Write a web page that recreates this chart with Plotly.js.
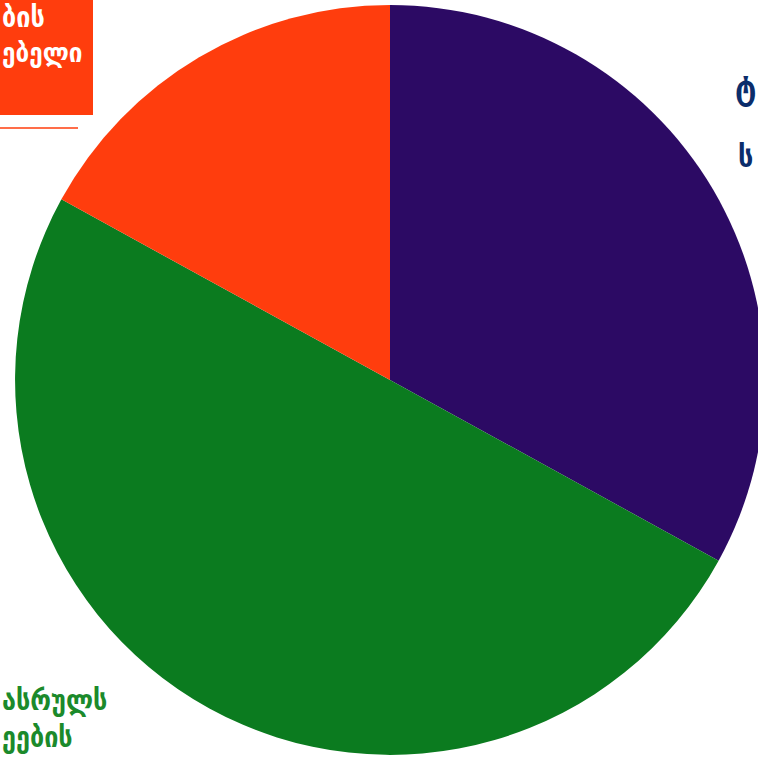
<!DOCTYPE html>
<html>
<head>
<meta charset="utf-8">
<script src="https://cdn.plot.ly/plotly-3.0.1.min.js"></script>
<style>
html,body{margin:0;padding:0;overflow:hidden;background:#fff;width:758px;height:759px;}
#chart{width:800px;height:759px;}
</style>
</head>
<body>
<div id="chart"></div>
<script>
// Slice categories (partially visible labels in the reference) and shares in percent
const categories = ["ტ ს", "ასრულს ეების", "ბის ებელი"];
const values = [33, 50, 17];
const colors = ["#2c0a64", "#0b7b1f", "#ff3d0d"];

// Visible label fragments
const orangeLines = ["ბის", "ებელი"];
const greenLines = ["ასრულს", "ეების"];
const navyLines = ["ტ", "ს"];

const W = 800, H = 759;
const px = x => x / W;
const py = y => 1 - y / H;

const data = [{
  type: "pie",
  labels: categories,
  values: values,
  sort: false,
  direction: "clockwise",
  rotation: 0,
  textinfo: "none",
  hoverinfo: "label+percent",
  marker: {colors: colors, line: {width: 0}},
  domain: {x: [px(15), px(765)], y: [4 / H, 754 / H]},
  showlegend: false
}];

const font = "DejaVu Sans Condensed, DejaVu Sans, sans-serif";
const mk = (text, x, y, anchor, color, size) => ({
  text: "<b>" + text + "</b>", x: px(x), y: py(y), xanchor: anchor, yanchor: "middle",
  borderpad: 0,
  font: {family: font, size: size || 28, color: color}
});
const annotations = [
  mk(orangeLines[0], 1, 17, "left", "#ffffff", 28),
  mk(orangeLines[1], 1, 53, "left", "#ffffff", 27),
  mk(greenLines[0], 1, 700, "left", "#1b8a2b", 28),
  mk(greenLines[1], 1, 737, "left", "#1b8a2b", 28),
  mk(navyLines[0], 734, 87, "left", "#0b2d6b", 34),
  mk(navyLines[1], 737, 156, "left", "#0b2d6b", 30)
].map(a => Object.assign({xref: "paper", yref: "paper", showarrow: false}, a));

const shapes = [
  {type: "rect", xref: "paper", yref: "paper", x0: -0.05, x1: px(93), y0: py(115), y1: 1.05, fillcolor: "#ff3d0d", line: {width: 0}, layer: "below"},
  {type: "line", xref: "paper", yref: "paper", x0: -0.05, x1: px(78), y0: py(128), y1: py(128), line: {color: "#ff3d0d", width: 1.5}}
];

const layout = {
  width: W, height: H,
  margin: {l: 0, r: 0, t: 0, b: 0, pad: 0},
  paper_bgcolor: "#ffffff",
  plot_bgcolor: "#ffffff",
  showlegend: false,
  annotations: annotations,
  shapes: shapes
};

Plotly.newPlot("chart", data, layout, {displayModeBar: false, staticPlot: true});
</script>
</body>
</html>
